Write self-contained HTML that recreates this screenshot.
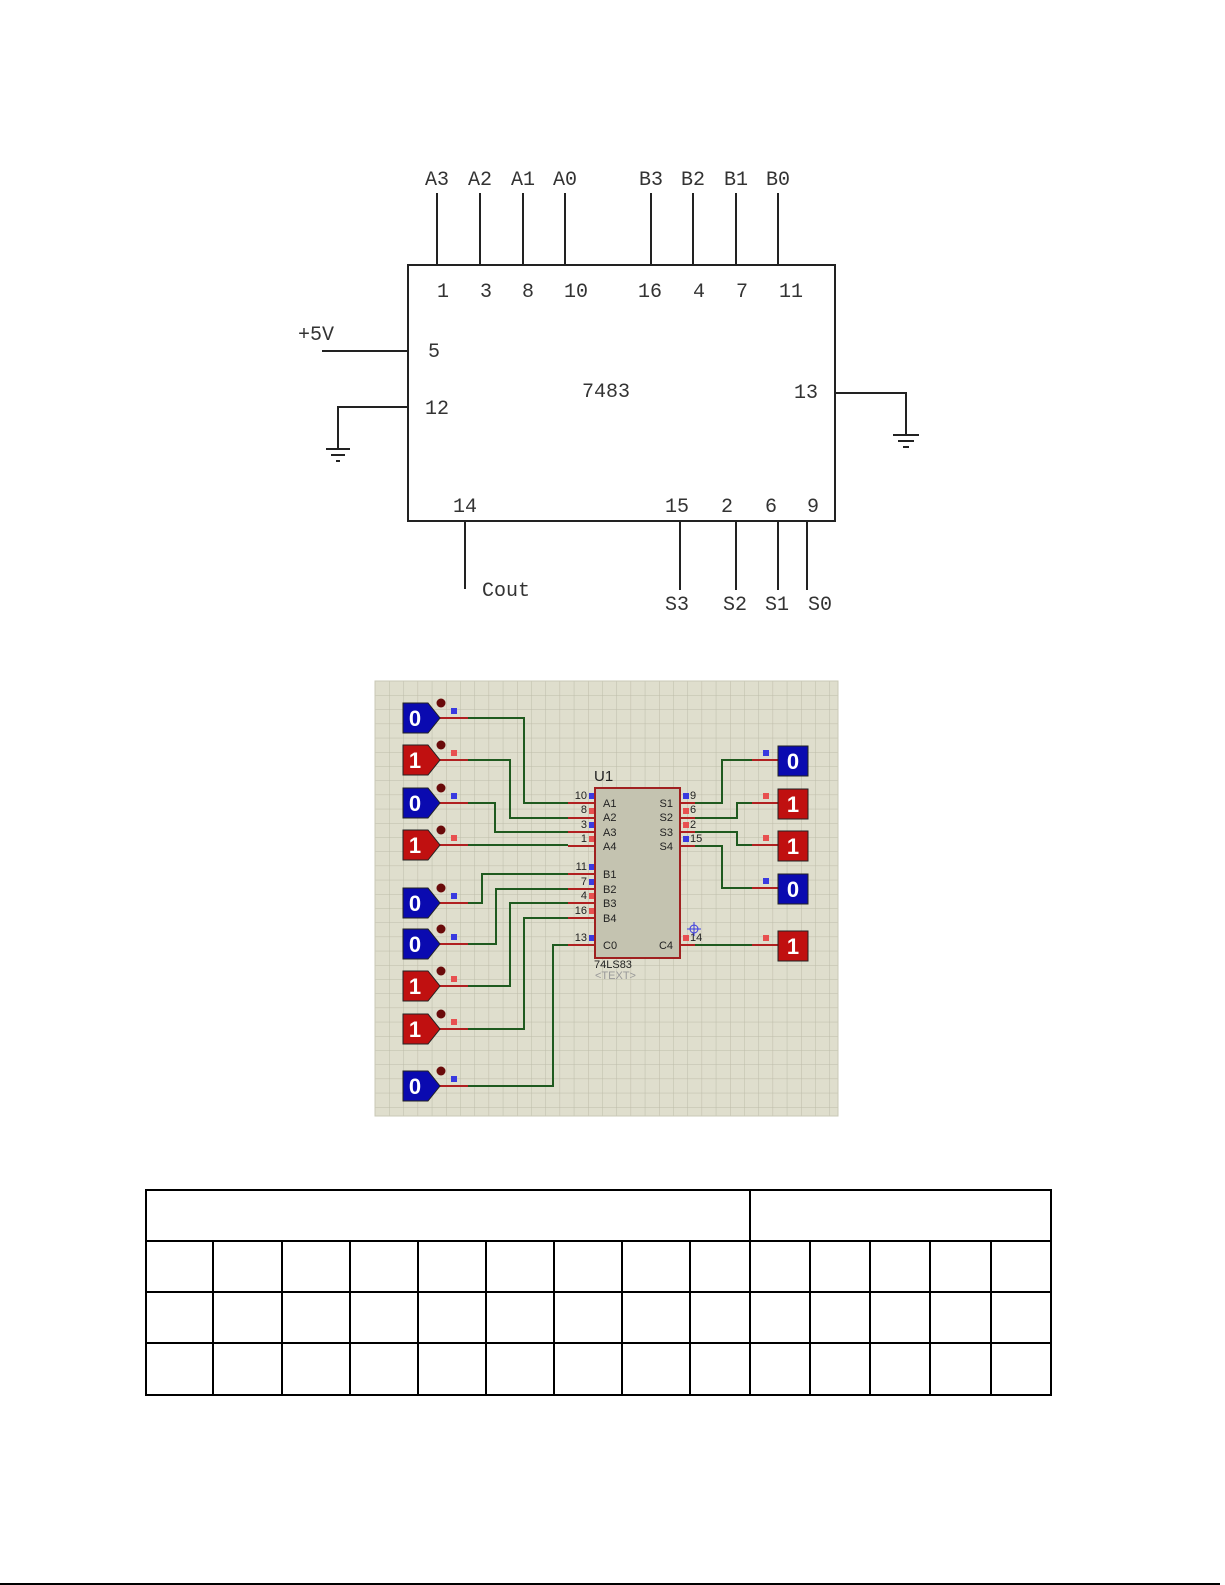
<!DOCTYPE html>
<html><head><meta charset="utf-8"><style>
html,body{margin:0;padding:0;background:#fff;}
svg{display:block;}
</style></head><body>
<svg width="1225" height="1585" viewBox="0 0 1225 1585" xmlns="http://www.w3.org/2000/svg">
<defs>
<pattern id="grid" x="375" y="681" width="14.2" height="14.2" patternUnits="userSpaceOnUse">
<rect width="14.2" height="14.2" fill="#dfdecd"/>
<path d="M0 0H14.2M0 0V14.2" stroke="#bdbca9" stroke-width="1" fill="none"/>
</pattern>
</defs>
<rect width="1225" height="1585" fill="#fff"/>

<g stroke="#222" stroke-width="2" fill="none">
<rect x="408" y="265" width="427" height="256"/>
<path d="M437 193V265M480 193V265M523 193V265M565 193V265M651 193V265M693 193V265M736 193V265M778 193V265"/>
<path d="M322 351H408"/>
<path d="M408 407H338V448"/>
<path d="M326 449H350M331 455H345M336 461H340"/>
<path d="M835 393H906V435"/>
<path d="M893 435H919M898 441H914M903 447H909"/>
<path d="M465 521V589"/>
<path d="M680 521V590M736 521V590M778 521V590M807 521V590"/>
</g>
<g font-family="Liberation Mono, monospace" font-size="20" fill="#333" text-anchor="middle">
<text x="437" y="185">A3</text><text x="480" y="185">A2</text><text x="523" y="185">A1</text><text x="565" y="185">A0</text>
<text x="651" y="185">B3</text><text x="693" y="185">B2</text><text x="736" y="185">B1</text><text x="778" y="185">B0</text>
<text x="443" y="297">1</text><text x="486" y="297">3</text><text x="528" y="297">8</text><text x="576" y="297">10</text>
<text x="650" y="297">16</text><text x="699" y="297">4</text><text x="742" y="297">7</text><text x="791" y="297">11</text>
<text x="316" y="340">+5V</text>
<text x="434" y="357">5</text>
<text x="437" y="414">12</text>
<text x="606" y="397">7483</text>
<text x="806" y="398">13</text>
<text x="465" y="512">14</text>
<text x="677" y="512">15</text><text x="727" y="512">2</text><text x="771" y="512">6</text><text x="813" y="512">9</text>
<text x="506" y="596">Cout</text>
<text x="677" y="610">S3</text><text x="735" y="610">S2</text><text x="777" y="610">S1</text><text x="820" y="610">S0</text>
</g>

<rect x="375" y="681" width="463" height="435" fill="url(#grid)"/>
<rect x="375" y="681" width="463" height="435" fill="none" stroke="#c9c8b6"/>

<g stroke="#1f5a1f" stroke-width="2" fill="none">
<path d="M468 718H524V803H568"/>
<path d="M468 760H510V818H568"/>
<path d="M468 803H495V832H568"/>
<path d="M468 845H568"/>
<path d="M468 903H482V874H568"/>
<path d="M468 944H496V889H568"/>
<path d="M468 986H510V903H568"/>
<path d="M468 1029H524V918H568"/>
<path d="M468 1086H553V945H568"/>
<path d="M695 803H722V760H752"/>
<path d="M695 818H737V803H752"/>
<path d="M695 832H737V845H752"/>
<path d="M695 846H722V888H752"/>
<path d="M695 945H752"/>
</g>
<g stroke="#b02020" stroke-width="2" fill="none">
<path d="M440 718H468M440 760H468M440 803H468M440 845H468M440 903H468M440 944H468M440 986H468M440 1029H468M440 1086H468"/>
<path d="M568 803H595M568 818H595M568 832H595M568 846H595M568 874H595M568 889H595M568 903H595M568 918H595M568 945H595"/>
<path d="M680 803H695M680 818H695M680 832H695M680 846H695M680 945H695"/>
<path d="M752 760H778M752 803H778M752 845H778M752 888H778M752 945H778"/>
</g>

<g font-family="Liberation Sans, sans-serif" font-weight="bold" font-size="22" fill="#fff" text-anchor="middle">
<g transform="translate(0,718)"><path d="M403 -15H428L440 0L428 15H403Z" fill="#0a0ab0" stroke="#222"/><text x="415" y="8">0</text></g>
<g transform="translate(0,760)"><path d="M403 -15H428L440 0L428 15H403Z" fill="#c01010" stroke="#222"/><text x="415" y="8">1</text></g>
<g transform="translate(0,803)"><path d="M403 -15H428L440 0L428 15H403Z" fill="#0a0ab0" stroke="#222"/><text x="415" y="8">0</text></g>
<g transform="translate(0,845)"><path d="M403 -15H428L440 0L428 15H403Z" fill="#c01010" stroke="#222"/><text x="415" y="8">1</text></g>
<g transform="translate(0,903)"><path d="M403 -15H428L440 0L428 15H403Z" fill="#0a0ab0" stroke="#222"/><text x="415" y="8">0</text></g>
<g transform="translate(0,944)"><path d="M403 -15H428L440 0L428 15H403Z" fill="#0a0ab0" stroke="#222"/><text x="415" y="8">0</text></g>
<g transform="translate(0,986)"><path d="M403 -15H428L440 0L428 15H403Z" fill="#c01010" stroke="#222"/><text x="415" y="8">1</text></g>
<g transform="translate(0,1029)"><path d="M403 -15H428L440 0L428 15H403Z" fill="#c01010" stroke="#222"/><text x="415" y="8">1</text></g>
<g transform="translate(0,1086)"><path d="M403 -15H428L440 0L428 15H403Z" fill="#0a0ab0" stroke="#222"/><text x="415" y="8">0</text></g>
<rect x="778" y="746" width="30" height="30" fill="#0a0ab0" stroke="#222"/><text x="793" y="769">0</text>
<rect x="778" y="789" width="30" height="30" fill="#c01010" stroke="#222"/><text x="793" y="812">1</text>
<rect x="778" y="831" width="30" height="30" fill="#c01010" stroke="#222"/><text x="793" y="854">1</text>
<rect x="778" y="874" width="30" height="30" fill="#0a0ab0" stroke="#222"/><text x="793" y="897">0</text>
<rect x="778" y="931" width="30" height="30" fill="#c01010" stroke="#222"/><text x="793" y="954">1</text>
</g>
<g fill="#6a0a0a">
<circle cx="441" cy="703" r="4.5"/><circle cx="441" cy="745" r="4.5"/><circle cx="441" cy="788" r="4.5"/><circle cx="441" cy="830" r="4.5"/>
<circle cx="441" cy="888" r="4.5"/><circle cx="441" cy="929" r="4.5"/><circle cx="441" cy="971" r="4.5"/><circle cx="441" cy="1014" r="4.5"/><circle cx="441" cy="1071" r="4.5"/>
</g>
<g>
<rect x="451" y="708" width="6" height="6" fill="#3a3ae0"/><rect x="451" y="750" width="6" height="6" fill="#e85050"/>
<rect x="451" y="793" width="6" height="6" fill="#3a3ae0"/><rect x="451" y="835" width="6" height="6" fill="#e85050"/>
<rect x="451" y="893" width="6" height="6" fill="#3a3ae0"/><rect x="451" y="934" width="6" height="6" fill="#3a3ae0"/>
<rect x="451" y="976" width="6" height="6" fill="#e85050"/><rect x="451" y="1019" width="6" height="6" fill="#e85050"/>
<rect x="451" y="1076" width="6" height="6" fill="#3a3ae0"/>
<rect x="763" y="750" width="6" height="6" fill="#3a3ae0"/><rect x="763" y="793" width="6" height="6" fill="#e85050"/>
<rect x="763" y="835" width="6" height="6" fill="#e85050"/><rect x="763" y="878" width="6" height="6" fill="#3a3ae0"/>
<rect x="763" y="935" width="6" height="6" fill="#e85050"/>
<rect x="589" y="793" width="6" height="6" fill="#3a3ae0"/><rect x="589" y="808" width="6" height="6" fill="#e85050"/>
<rect x="589" y="822" width="6" height="6" fill="#3a3ae0"/><rect x="589" y="836" width="6" height="6" fill="#e85050"/>
<rect x="589" y="864" width="6" height="6" fill="#3a3ae0"/><rect x="589" y="879" width="6" height="6" fill="#3a3ae0"/>
<rect x="589" y="893" width="6" height="6" fill="#e85050"/><rect x="589" y="908" width="6" height="6" fill="#e85050"/>
<rect x="589" y="935" width="6" height="6" fill="#3a3ae0"/>
<rect x="683" y="793" width="6" height="6" fill="#3a3ae0"/><rect x="683" y="808" width="6" height="6" fill="#e85050"/>
<rect x="683" y="822" width="6" height="6" fill="#e85050"/><rect x="683" y="836" width="6" height="6" fill="#3a3ae0"/>
<rect x="683" y="935" width="6" height="6" fill="#e85050"/>
</g>
<rect x="595" y="788" width="85" height="170" fill="#c4c3b0" stroke="#a02020" stroke-width="2"/>
<g font-family="Liberation Sans, sans-serif" font-size="11" fill="#222">
<text x="594" y="781" font-size="15">U1</text>
<g text-anchor="end">
<text x="587" y="799">10</text><text x="587" y="813">8</text><text x="587" y="828">3</text><text x="587" y="842">1</text>
<text x="587" y="870">11</text><text x="587" y="885">7</text><text x="587" y="899">4</text><text x="587" y="914">16</text><text x="587" y="941">13</text>
</g>
<text x="603" y="807">A1</text><text x="603" y="821">A2</text><text x="603" y="836">A3</text><text x="603" y="850">A4</text>
<text x="603" y="878">B1</text><text x="603" y="893">B2</text><text x="603" y="907">B3</text><text x="603" y="922">B4</text><text x="603" y="949">C0</text>
<g text-anchor="end"><text x="673" y="807">S1</text><text x="673" y="821">S2</text><text x="673" y="836">S3</text><text x="673" y="850">S4</text><text x="673" y="949">C4</text></g>
<text x="690" y="799">9</text><text x="690" y="813">6</text><text x="690" y="828">2</text><text x="690" y="842">15</text><text x="690" y="941">14</text>
<text x="594" y="968">74LS83</text>
<text x="595" y="979" fill="#999">&lt;TEXT&gt;</text>
</g>
<g stroke="#3a3ae0" stroke-width="1" fill="none"><circle cx="694" cy="929" r="4"/><path d="M687 929H701M694 922V936"/></g>

<g stroke="#000" stroke-width="2" fill="none">
<rect x="146" y="1190" width="905" height="205"/>
<path d="M146 1241H1051M146 1292H1051M146 1343H1051"/>
<path d="M750 1190V1395"/>
<path d="M213 1241V1395M282 1241V1395M350 1241V1395M418 1241V1395M486 1241V1395M554 1241V1395M622 1241V1395M690 1241V1395M810 1241V1395M870 1241V1395M930 1241V1395M991 1241V1395"/>
</g>
<path d="M0 1584H1220" stroke="#000" stroke-width="2"/>
</svg>
</body></html>
